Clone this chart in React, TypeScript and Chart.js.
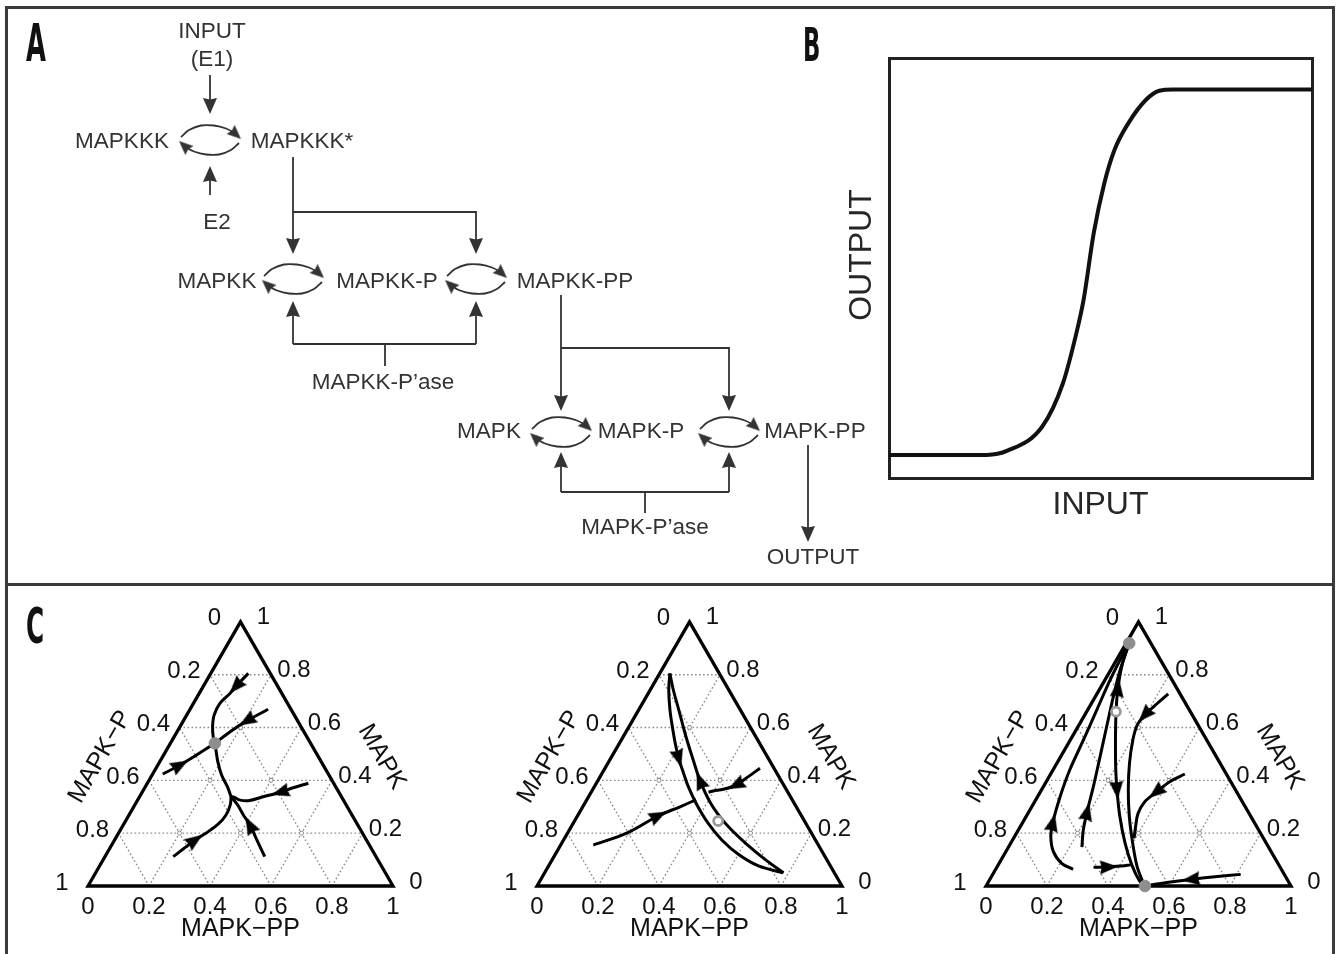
import React, { useEffect, useRef } from "react";
import { Chart, registerables } from "chart.js";

Chart.register(...registerables);

const SANS = '"Liberation Sans", Arial, Helvetica, sans-serif';

/* ---------------- Panel B : stimulus / response curve ---------------- */
const inputLevels = [0, 23.1, 28.0, 36.2, 41.1, 44.3, 46.0, 48.4, 50.9, 53.3, 56.6, 60.7, 63.9, 67.2, 100];
const outputLevels = [0.055, 0.055, 0.065, 0.122, 0.225, 0.345, 0.424, 0.583, 0.702, 0.781, 0.845, 0.9, 0.922, 0.925, 0.925];
const inputTitle = "INPUT";
const outputTitle = "OUTPUT";

/* ---------------- Panel A : cascade diagram ---------------- */
const speciesNames = ["INPUT", "(E1)", "MAPKKK", "MAPKKK*", "E2", "MAPKK", "MAPKK-P", "MAPKK-PP", "MAPKK-P’ase", "MAPK", "MAPK-P", "MAPK-PP", "MAPK-P’ase", "OUTPUT"];
const speciesX = [212, 212, 122, 302, 217, 217, 387, 575, 383, 489, 641, 815, 645, 813];
const speciesY = [32, 60, 142, 142, 223, 282, 282, 282, 383, 432, 432, 432, 528, 558];
const cycleX = [210, 293, 476, 561, 729];
const cycleY = [140, 279, 279, 432, 432];
const linkPaths = [
  [[210, 75], [210, 114]],
  [[210, 195], [210, 166]],
  [[293, 157], [293, 254]],
  [[293, 212], [476, 212], [476, 254]],
  [[293, 344], [293, 301]],
  [[476, 344], [476, 301]],
  [[293, 344], [476, 344]],
  [[385, 344], [385, 366]],
  [[561, 295], [561, 411]],
  [[561, 348], [729, 348], [729, 411]],
  [[561, 492], [561, 452]],
  [[729, 492], [729, 452]],
  [[561, 492], [729, 492]],
  [[645, 492], [645, 513]],
  [[808, 445], [808, 542]],
];
const linkArrow = [true, true, true, true, true, true, false, false, true, true, true, true, false, false, true];

/* ---------------- Panel C : ternary phase portraits ---------------- */
/* every point: [MAPK-PP fraction, MAPK fraction]; MAPK-P = 1 - both */
const ternaryTicks = [0, 0.2, 0.4, 0.6, 0.8, 1];
const ternaryAxisNames = ["MAPK−PP", "MAPK−P", "MAPK"];

const c1Paths = [
  [[0.123, 0.805], [0.107, 0.755], [0.101, 0.73], [0.087, 0.692], [0.09, 0.647], [0.107, 0.603], [0.128, 0.565], [0.146, 0.54]],
  [[0.256, 0.669], [0.208, 0.625], [0.174, 0.584], [0.146, 0.54]],
  [[0.033, 0.424], [0.073, 0.458], [0.108, 0.496], [0.146, 0.54]],
  [[0.3, 0.338], [0.269, 0.376], [0.228, 0.42], [0.19, 0.471], [0.162, 0.515], [0.146, 0.54]],
  [[0.224, 0.111], [0.242, 0.14], [0.264, 0.174], [0.288, 0.202], [0.31, 0.235], [0.318, 0.269], [0.313, 0.307], [0.3, 0.338]],
  [[0.524, 0.111], [0.484, 0.155], [0.415, 0.231], [0.375, 0.269], [0.337, 0.307], [0.3, 0.338]],
  [[0.528, 0.389], [0.487, 0.372], [0.453, 0.355], [0.406, 0.338], [0.364, 0.323], [0.333, 0.326], [0.311, 0.336], [0.3, 0.338]],
];
const c1Heads = [1, 1, 1, -1, 2, 2, 2];
const c1Stable = [[0.146, 0.54]];
const c1Unstable: number[][] = [];

const c2Paths = [
  [[0.033, 0.805], [0.061, 0.742], [0.103, 0.666], [0.15, 0.591], [0.192, 0.527], [0.223, 0.483], [0.267, 0.427], [0.308, 0.376], [0.371, 0.307], [0.443, 0.237], [0.519, 0.174], [0.6, 0.12], [0.688, 0.076], [0.783, 0.05]],
  [[0.783, 0.05], [0.697, 0.101], [0.609, 0.158], [0.532, 0.212], [0.469, 0.262], [0.407, 0.319], [0.335, 0.399], [0.283, 0.465], [0.206, 0.565], [0.132, 0.666], [0.076, 0.742], [0.033, 0.805]],
  [[0.107, 0.155], [0.194, 0.2], [0.265, 0.266], [0.319, 0.3], [0.347, 0.319], [0.357, 0.328]],
  [[0.508, 0.446], [0.486, 0.414], [0.461, 0.382], [0.428, 0.366], [0.398, 0.36], [0.385, 0.355]],
];
const c2Heads = [5, 6, 2, 2];
const c2Stable: number[][] = [];
const c2Unstable = [[0.471, 0.246]];

const c3Paths = [
  [[0.254, 0.063], [0.205, 0.086], [0.156, 0.13], [0.119, 0.187], [0.099, 0.24], [0.074, 0.338], [0.055, 0.439], [0.043, 0.553], [0.03, 0.666], [0.017, 0.78], [0.011, 0.868], [0.01, 0.919]],
  [[0.096, 0.66], [0.058, 0.749], [0.026, 0.843], [0.01, 0.919]],
  [[0.241, 0.147], [0.213, 0.212], [0.191, 0.281], [0.164, 0.376], [0.129, 0.49], [0.094, 0.603], [0.059, 0.717], [0.034, 0.805], [0.019, 0.875], [0.01, 0.919]],
  [[0.096, 0.66], [0.148, 0.553], [0.206, 0.439], [0.248, 0.363], [0.308, 0.262], [0.375, 0.162], [0.438, 0.08], [0.493, 0.02], [0.521, 0]],
  [[0.234, 0.727], [0.215, 0.689], [0.197, 0.647], [0.191, 0.61], [0.205, 0.553], [0.238, 0.465], [0.285, 0.363], [0.339, 0.262], [0.4, 0.162], [0.459, 0.073], [0.506, 0.016], [0.521, 0]],
  [[0.44, 0.424], [0.405, 0.395], [0.38, 0.355], [0.361, 0.319], [0.361, 0.275], [0.378, 0.225], [0.395, 0.181]],
  [[0.317, 0.071], [0.367, 0.072], [0.407, 0.076], [0.434, 0.08]],
  [[0.813, 0.044], [0.733, 0.035], [0.659, 0.025], [0.586, 0.013], [0.521, 0]],
];
const c3Heads = [4, 1, 2, 3, 2, 2, 1, 2];
const c3Stable = [[0.01, 0.919], [0.521, 0]];
const c3Unstable = [[0.096, 0.66]];

/* ---------------- helpers ---------------- */
function arrowHead(len: number, wid: number, color: string) {
  const c = document.createElement("canvas");
  c.width = wid;
  c.height = len;
  const g = c.getContext("2d")!;
  g.fillStyle = color;
  g.beginPath();
  g.moveTo(wid / 2, 0);
  g.lineTo(wid, len);
  g.lineTo(wid / 2, len * 0.9);
  g.lineTo(0, len);
  g.closePath();
  g.fill();
  return c;
}

function baseOptions(): any {
  return {
    responsive: false,
    animation: false,
    events: [],
    layout: { padding: 0, autoPadding: false },
    plugins: { legend: { display: false }, tooltip: { enabled: false }, title: { display: false } },
    elements: { point: { radius: 0 } },
  };
}

/* ---------------- Panel A ---------------- */
function PathwayPanel() {
  const ref = useRef<HTMLCanvasElement | null>(null);
  useEffect(() => {
    const ink = "#333333";
    const BIG = 16, SMALL = 14;
    const bigHead = arrowHead(BIG, 14, ink);
    const smallHead = arrowHead(SMALL, 12, ink);
    const ds: any[] = [];
    const bigPts: any[] = [], bigRot: number[] = [], smallPts: any[] = [], smallRot: number[] = [];
    const addHead = (from: any, tip: any, len: number, pts: any[], rot: number[]) => {
      const dx = tip.x - from.x, dy = tip.y - from.y;
      const L = Math.hypot(dx, dy) || 1;
      pts.push({ x: tip.x - (dx / L) * len / 2, y: tip.y - (dy / L) * len / 2 });
      rot.push((Math.atan2(dx, -dy) * 180) / Math.PI);
    };
    linkPaths.forEach((path, i) => {
      const pts = path.map(([x, y]) => ({ x, y }));
      const drawn = pts.slice();
      if (linkArrow[i]) {
        const a = pts[pts.length - 2], b = pts[pts.length - 1];
        addHead(a, b, BIG, bigPts, bigRot);
        const dx = b.x - a.x, dy = b.y - a.y, L = Math.hypot(dx, dy) || 1;
        drawn[drawn.length - 1] = { x: b.x - (dx / L) * 7, y: b.y - (dy / L) * 7 };
      }
      ds.push({ data: drawn, borderColor: ink, borderWidth: 1.8, pointRadius: 0, order: 2 });
    });
    const arcFwd = [[-29, -3], [-21, -10], [-9, -14.5], [4, -14.5], [16, -11.5], [25, -6.5], [31, -1]];
    const arcBack = arcFwd.map(([dx, dy]) => [-dx, -dy]);
    cycleX.forEach((cx, i) => {
      [arcFwd, arcBack].forEach((tpl) => {
        const pts = tpl.map(([dx, dy]) => ({ x: cx + dx, y: cycleY[i] + dy }));
        ds.push({ data: pts.slice(0, -1).concat([{ x: (pts[5].x + pts[6].x) / 2, y: (pts[5].y + pts[6].y) / 2 }]), borderColor: ink, borderWidth: 1.8, tension: 0.4, pointRadius: 0, order: 2 });
        addHead(pts[pts.length - 2], pts[pts.length - 1], SMALL, smallPts, smallRot);
      });
    });
    ds.push({ data: bigPts, showLine: false, pointStyle: bigHead, pointRotation: bigRot, pointRadius: 6, order: 1 });
    ds.push({ data: smallPts, showLine: false, pointStyle: smallHead, pointRotation: smallRot, pointRadius: 6, order: 1 });

    const textPlugin = {
      id: "diagramText",
      afterDatasetsDraw(chart: any) {
        const { ctx, scales } = chart;
        ctx.save();
        ctx.font = `22.5px ${SANS}`;
        ctx.fillStyle = "#333333";
        ctx.textAlign = "center";
        ctx.textBaseline = "middle";
        speciesNames.forEach((n, i) => {
          ctx.fillText(n, scales.x.getPixelForValue(speciesX[i]), scales.y.getPixelForValue(speciesY[i]));
        });
        ctx.restore();
      },
    };
    const opts = baseOptions();
    opts.scales = {
      x: { type: "linear", display: false, min: 0, max: 880 },
      y: { type: "linear", display: false, min: 0, max: 583, reverse: true },
    };
    const chart = new Chart(ref.current!, { type: "line", data: { datasets: ds }, options: opts, plugins: [textPlugin] } as any);
    return () => chart.destroy();
  }, []);
  return <canvas ref={ref} width={880} height={583} style={{ position: "absolute", left: 0, top: 0 }} />;
}

/* ---------------- Panel B ---------------- */
function ResponsePanel() {
  const ref = useRef<HTMLCanvasElement | null>(null);
  useEffect(() => {
    const axis = (position: string, min: number, max: number) => ({
      type: "linear",
      position,
      min,
      max,
      display: true,
      ticks: { display: false },
      grid: { display: false, drawTicks: false, lineWidth: 3 },
      border: { display: true, width: 3, color: "#222222" },
    });
    const titles = {
      id: "ioTitles",
      afterDraw(chart: any) {
        const { ctx, chartArea: a } = chart;
        ctx.save();
        ctx.fillStyle = "#262626";
        ctx.font = `32px ${SANS}`;
        ctx.textAlign = "center";
        ctx.textBaseline = "middle";
        ctx.fillText(inputTitle, (a.left + a.right) / 2, a.bottom + 27);
        ctx.translate(a.left - 27, (a.top + a.bottom) / 2 - 13);
        ctx.rotate(-Math.PI / 2);
        ctx.fillText(outputTitle, 0, 0);
        ctx.restore();
      },
    };
    const opts = baseOptions();
    opts.layout = { padding: { left: 59, right: 18, top: 18, bottom: 72 }, autoPadding: false };
    opts.scales = { x: axis("bottom", 0, 100), y: axis("left", 0, 1), x2: axis("top", 0, 1), y2: axis("right", 0, 1) };
    const chart = new Chart(ref.current!, {
      type: "line",
      data: {
        datasets: [
          {
            data: inputLevels.map((x, i) => ({ x, y: outputLevels[i] })),
            borderColor: "#111111",
            borderWidth: 4,
            cubicInterpolationMode: "monotone",
            pointRadius: 0,
          },
        ],
      },
      options: opts,
      plugins: [titles],
    } as any);
    return () => chart.destroy();
  }, []);
  return <canvas ref={ref} width={500} height={510} style={{ position: "absolute", left: 830, top: 40 }} />;
}

/* ---------------- Panel C ---------------- */
function TernaryPlot(props: { left: number; paths: number[][][]; heads: number[]; stable: number[][]; unstable: number[][] }) {
  const ref = useRef<HTMLCanvasElement | null>(null);
  useEffect(() => {
    const W = 420, H = 355, S = 305, OX = 80, OY = 296;
    const R3 = Math.sqrt(3) / 2;
    const xy = (p: number[]) => ({ x: p[0] + p[1] / 2, y: p[1] * R3 });
    const head = arrowHead(18, 14, "#000000");
    const ds: any[] = [];
    const inner = ternaryTicks.filter((t) => t > 0 && t < 1);
    inner.forEach((t) => {
      const segs = [
        [[0, t], [1 - t, t]],
        [[t, 0], [t, 1 - t]],
        [[1 - t, 0], [0, 1 - t]],
      ];
      segs.forEach((seg) =>
        ds.push({ data: seg.map(xy), borderColor: "#8c8c8c", borderWidth: 1.4, borderDash: [1.6, 2.4], pointRadius: 0, order: 6 })
      );
    });
    const lattice: any[] = [];
    inner.forEach((m) =>
      inner.forEach((pp) => {
        if (1 - m - pp > 1e-6) lattice.push(xy([pp, m]));
      })
    );
    ds.push({ data: lattice, showLine: false, pointRadius: 2, pointBorderWidth: 1, pointBorderColor: "#8c8c8c", pointBackgroundColor: "#ffffff", order: 5 });
    ds.push({
      data: [[0, 0], [1, 0], [0, 1], [0, 0], [1, 0]].map(xy),
      borderColor: "#000000",
      borderWidth: 3.3,
      borderJoinStyle: "miter",
      pointRadius: 0,
      order: 4,
    });
    props.paths.forEach((path) => {
      ds.push({ data: path.map(xy), borderColor: "#000000", borderWidth: 3, tension: 0.35, pointRadius: 0, order: 3 });
    });
    const hp: any[] = [], hr: number[] = [];
    props.heads.forEach((k, i) => {
      if (k < 0) return;
      const pts = props.paths[i].map(xy);
      const a = pts[Math.max(k - 1, 0)], b = pts[Math.min(k + 1, pts.length - 1)];
      hp.push(pts[k]);
      hr.push((Math.atan2(b.x - a.x, b.y - a.y) * 180) / Math.PI);
    });
    ds.push({ data: hp, showLine: false, pointStyle: head, pointRotation: hr, pointRadius: 6, order: 2 });
    ds.push({ data: props.stable.map(xy), showLine: false, pointRadius: 5.8, pointBorderWidth: 1, pointBackgroundColor: "#8e8e8e", pointBorderColor: "#8e8e8e", order: 1 });
    ds.push({ data: props.unstable.map(xy), showLine: false, pointRadius: 4.5, pointBorderWidth: 2.8, pointBackgroundColor: "#ffffff", pointBorderColor: "#999999", order: 0 });

    const fmt = (t: number) => (t === 0 ? "0" : t === 1 ? "1" : t.toFixed(1));
    const labels = {
      id: "ternaryText",
      afterDatasetsDraw(chart: any) {
        const { ctx, scales } = chart;
        const P = (pp: number, mk: number) => [scales.x.getPixelForValue(pp + mk / 2), scales.y.getPixelForValue(mk * R3)];
        ctx.save();
        ctx.fillStyle = "#111111";
        ctx.textAlign = "center";
        ctx.textBaseline = "middle";
        ctx.font = `24px ${SANS}`;
        ternaryTicks.forEach((t) => {
          const s = fmt(t);
          let [px, py] = P(t, 0);
          ctx.fillText(s, px, py + 21);
          [px, py] = P(0, 1 - t);
          ctx.fillText(s, px - 26, py - 3);
          [px, py] = P(1 - t, t);
          ctx.fillText(s, px + 23, py - 4);
        });
        ctx.font = `25px ${SANS}`;
        let [px, py] = P(0.5, 0);
        ctx.fillText(ternaryAxisNames[0], px, py + 43);
        [px, py] = P(0, 0.5);
        ctx.save();
        ctx.translate(px - 64, py + 3);
        ctx.rotate(-Math.PI / 3);
        ctx.fillText(ternaryAxisNames[1], 0, 0);
        ctx.restore();
        [px, py] = P(0.5, 0.5);
        ctx.save();
        ctx.translate(px + 65, py + 3);
        ctx.rotate(Math.PI / 3);
        ctx.fillText(ternaryAxisNames[2], 0, 0);
        ctx.restore();
        ctx.restore();
      },
    };
    const opts = baseOptions();
    opts.scales = {
      x: { type: "linear", display: false, min: -OX / S, max: (W - OX) / S },
      y: { type: "linear", display: false, min: -(H - OY) / S, max: OY / S },
    };
    const chart = new Chart(ref.current!, { type: "line", data: { datasets: ds }, options: opts, plugins: [labels] } as any);
    return () => chart.destroy();
  }, []);
  return <canvas ref={ref} width={420} height={355} style={{ position: "absolute", left: props.left - 80, top: 590 }} />;
}

function PanelLetter(props: { ch: string; left: number; top: number; size: number }) {
  return (
    <div
      style={{
        position: "absolute",
        left: props.left,
        top: props.top,
        fontFamily: '"DejaVu Sans Condensed", "DejaVu Sans", sans-serif',
        fontWeight: 700,
        fontSize: props.size,
        lineHeight: 1,
        color: "#111",
        transform: "scaleX(0.55)",
        transformOrigin: "left top",
      }}
    >
      {props.ch}
    </div>
  );
}

export default function App() {
  return (
    <div style={{ position: "absolute", left: 0, top: 0, width: 1342, height: 954, overflow: "hidden", background: "#ffffff" }}>
      <PathwayPanel />
      <ResponsePanel />
      <TernaryPlot left={88} paths={c1Paths} heads={c1Heads} stable={c1Stable} unstable={c1Unstable} />
      <TernaryPlot left={537} paths={c2Paths} heads={c2Heads} stable={c2Stable} unstable={c2Unstable} />
      <TernaryPlot left={986} paths={c3Paths} heads={c3Heads} stable={c3Stable} unstable={c3Unstable} />
      <div style={{ position: "absolute", left: 5, top: 6, width: 1330, height: 1000, border: "3px solid #3a3a3a", boxSizing: "border-box" }} />
      <div style={{ position: "absolute", left: 5, top: 583, width: 1330, height: 3, background: "#3a3a3a" }} />
      <PanelLetter ch="A" left={26} top={17} size={52} />
      <PanelLetter ch="B" left={803} top={22} size={46} />
      <PanelLetter ch="C" left={26} top={601} size={50} />
    </div>
  );
}
